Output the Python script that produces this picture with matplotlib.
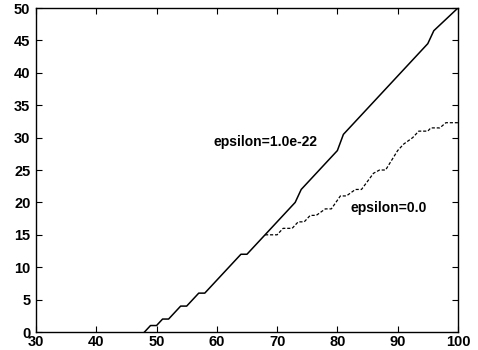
import matplotlib
matplotlib.use("Agg")
import matplotlib.pyplot as plt

# epsilon = 1.0e-22 (solid)
x_eps22 = [48, 49, 50, 51, 52, 54, 55, 57, 58, 64, 65, 73, 74, 80, 81, 95, 96, 100]
y_eps22 = [0, 1, 1, 2, 2, 4, 4, 6, 6, 12, 12, 20, 22, 28, 30.5, 44.5, 46.5, 50]

# epsilon = 0.0 (dashed), branches off the solid curve at 68
x_eps0 = [68, 70, 71, 72.5, 73.5, 74.5, 75.5, 76.5, 78, 79, 80.5, 81.5, 83, 84,
          86, 87, 88, 89, 90, 91, 92.5, 93.5, 95, 95.5, 97, 98, 100]
y_eps0 = [15, 15, 16, 16, 17, 17, 18, 18, 19, 19, 21, 21, 22, 22,
          24.5, 25, 25, 26.5, 28, 29, 30, 31, 31, 31.5, 31.5, 32.3, 32.3]

plt.rcParams['font.family'] = ['Liberation Sans', 'DejaVu Sans']
plt.rcParams['font.weight'] = 'bold'

fig = plt.figure(figsize=(4.78, 3.5), dpi=100)
ax = fig.add_axes([0.0753, 0.0514, 0.8827, 0.9257])

ax.plot(x_eps22, y_eps22, '-', color='black', lw=1.1)
ax.plot(x_eps0, y_eps0, '--', color='black', lw=0.9, dashes=(2.5, 1.5))

ax.text(59.4, 29.3, "epsilon=1.0e-22", fontsize=10, va='center', ha='left')
ax.text(82.1, 19.1, "epsilon=0.0", fontsize=10, va='center', ha='left')

ax.set_xlim(30, 100)
ax.set_ylim(0, 50)
ax.set_xticks(range(30, 101, 10))
ax.set_yticks(range(0, 51, 5))
ax.tick_params(direction='in', top=True, right=True, length=4, width=0.8,
               labelsize=10.5)
ax.tick_params(axis='x', pad=2)
ax.tick_params(axis='y', pad=4)
for s in ax.spines.values():
    s.set_linewidth(1.0)

fig.savefig("out.png", dpi=100)
